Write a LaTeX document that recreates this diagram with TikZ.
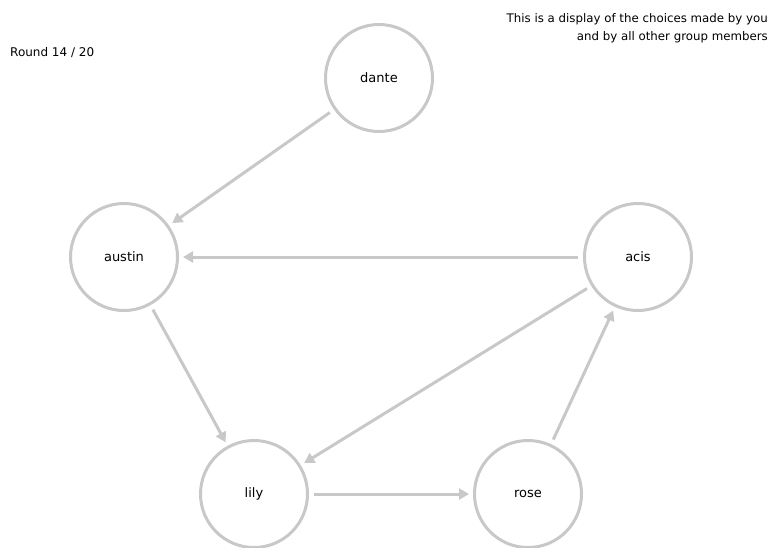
\documentclass[tikz,border=0pt]{standalone}
\usepackage{fontspec}
\setmainfont{DejaVu Sans}
\usepackage{tikz}
\usetikzlibrary{arrows.meta}

\definecolor{edgegray}{RGB}{200,200,200}
\tikzset{
  player/.style={circle, draw=edgegray, line width=3pt, minimum size=107pt, inner sep=0pt, font=\fontsize{13}{15}\selectfont},
  choice/.style={draw=edgegray, line width=3pt, -{Triangle[length=10pt,width=11pt]}, shorten <=5pt, shorten >=4pt}
}

\begin{document}
\begin{tikzpicture}[x=1pt,y=-1pt]
        % Fix the canvas
        \useasboundingbox (0,0) rectangle (769,547);

        % Header texts
        \node[anchor=west, inner sep=0pt, font=\fontsize{12}{14}\selectfont] (round) at (10,52) {Round 14 / 20};
        \node[anchor=north east, align=right, font=\fontsize{11.8}{18}\selectfont, inner sep=0pt] (info) at (768,13)
            {This is a display of the choices made by you\\and by all other group members};

        % Draw the players
        \node[player] (dante) at (379,78) {dante};
        \node[player] (austin) at (124,257) {austin};
        \node[player] (acis) at (638,257) {acis};
        \node[player] (lily) at (254,494) {lily};
        \node[player] (rose) at (528,494) {rose};

        % Draw the choices
        \draw[choice] (dante) -- (austin);
        \draw[choice] (acis) -- (austin);
        \draw[choice] (austin) -- (lily);
        \draw[choice] (acis) -- (lily);
        \draw[choice] (lily) -- (rose);
        \draw[choice] (rose) -- (acis);
\end{tikzpicture}
\end{document}
